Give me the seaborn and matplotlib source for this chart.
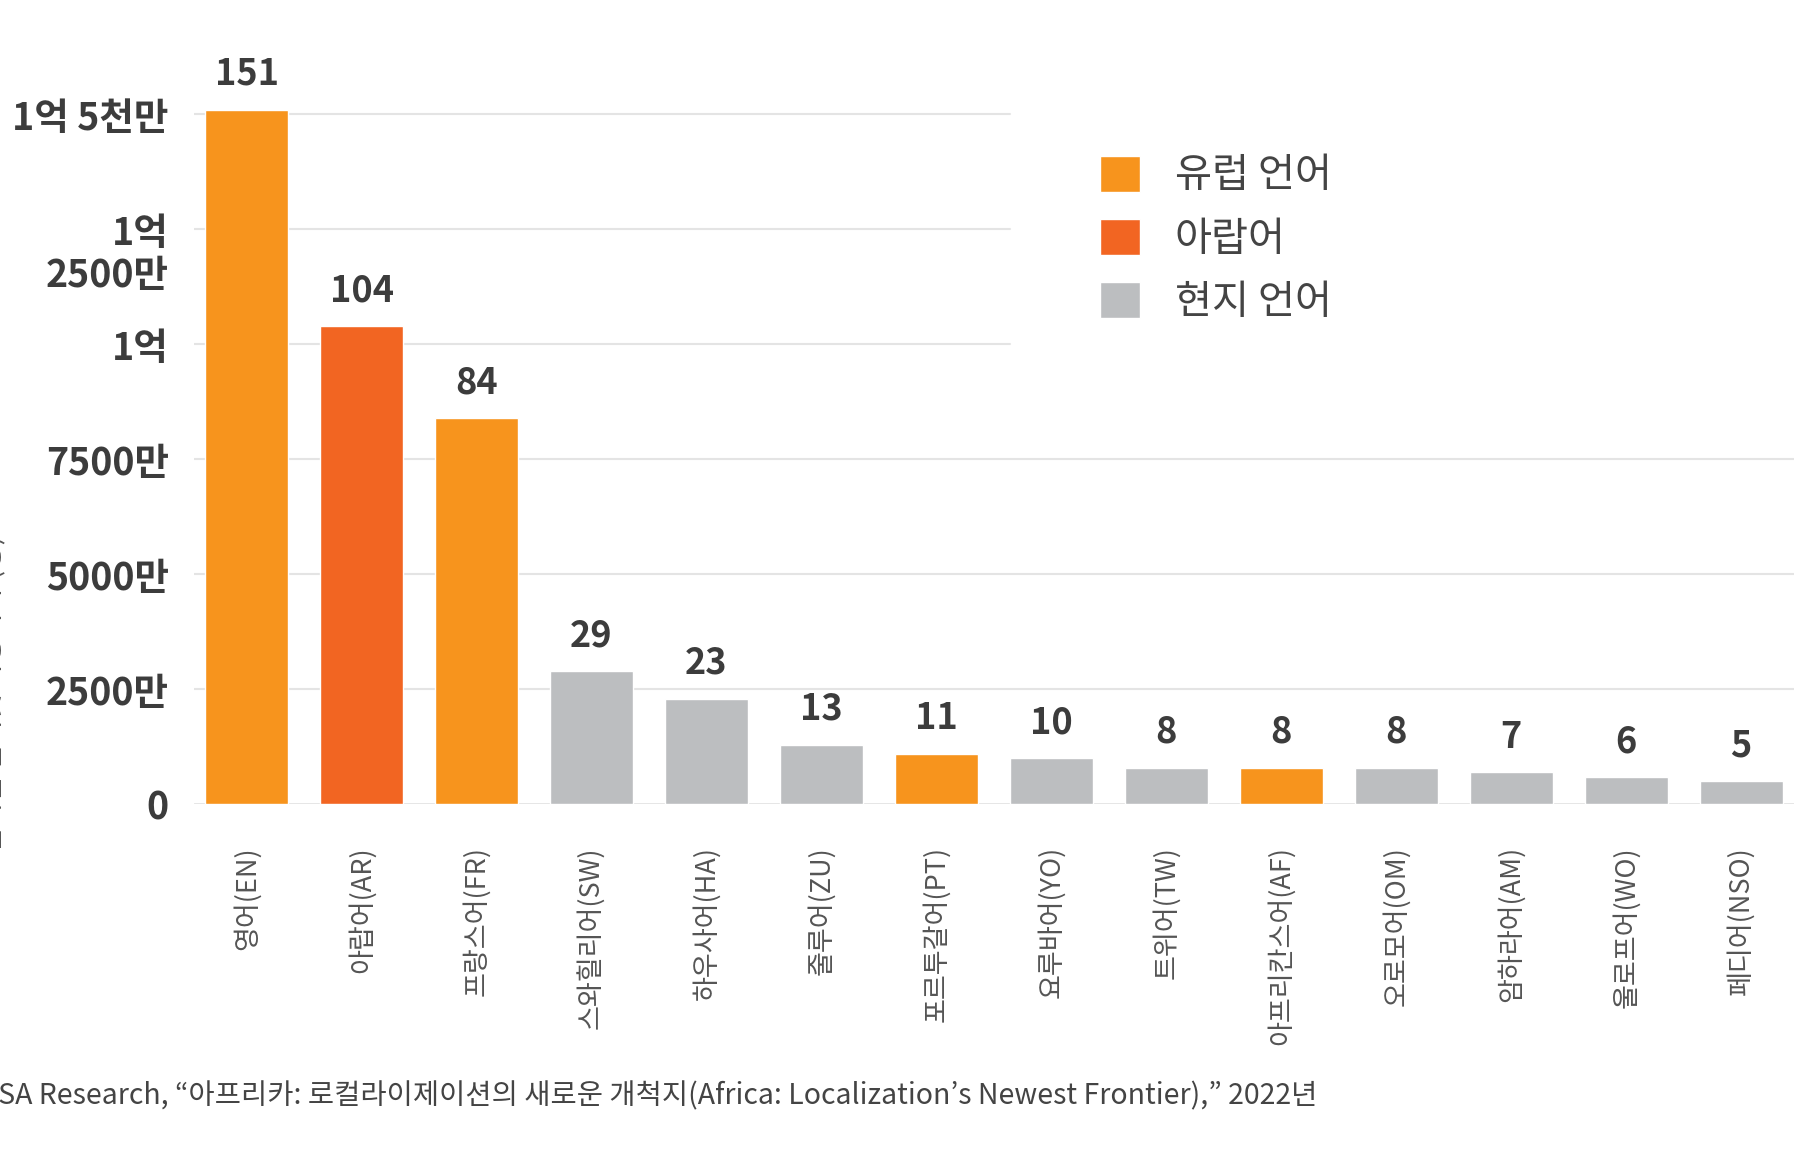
import matplotlib.pyplot as plt
import pandas as pd
import seaborn as sns

# 언어별 사용자 수 (단위: 명)
languages = ["영어(EN)", "아랍어(AR)", "프랑스어(FR)", "스와힐리어(SW)", "하우사어(HA)",
             "줄루어(ZU)", "포르투갈어(PT)", "요루바어(YO)", "트위어(TW)", "아프리칸스어(AF)",
             "오로모어(OM)", "암하라어(AM)", "울로프어(WO)", "페디어(NSO)"]
speakers_m = [151, 104, 84, 29, 23, 13, 11, 10, 8, 8, 8, 7, 6, 5]
groups = ["유럽 언어", "아랍어", "유럽 언어", "현지 언어", "현지 언어",
          "현지 언어", "유럽 언어", "현지 언어", "현지 언어", "유럽 언어",
          "현지 언어", "현지 언어", "현지 언어", "현지 언어"]
group_colors = {"유럽 언어": "#F7941D", "아랍어": "#F26522", "현지 언어": "#BCBEC0"}
ytick_values = [0, 25e6, 50e6, 75e6, 100e6, 125e6, 150e6]
ytick_labels = ["0", "2500만", "5000만", "7500만", "1억", "", "1억 5천만"]
source = "CSA Research, “아프리카: 로컬라이제이션의 새로운 개척지(Africa: Localization’s Newest Frontier),” 2022년"

df = pd.DataFrame({"language": languages,
                   "speakers": [v * 1e6 for v in speakers_m],
                   "group": groups})

sns.set_style("white")
plt.rcParams["font.family"] = ["Noto Sans CJK KR", "DejaVu Sans"]
TXT = "#3c3c3c"

fig = plt.figure(figsize=(17.94, 11.76), dpi=100)
ax = fig.add_axes([0.108, 0.316, 0.892, 0.626])

sns.barplot(data=df, x="language", y="speakers", hue="group", palette=group_colors,
            dodge=False, width=0.72, saturation=1, ax=ax, zorder=3)

# gridlines (upper ones stop before the legend)
for v in ytick_values:
    xmax = 0.51 if v >= 100e6 else 1.0
    ax.axhline(v, xmin=0, xmax=xmax, color="#e4e4e4", lw=2 if v == 0 else 1.5, zorder=1)

ax.set_ylim(0, 160e6)
ax.set_xlim(-0.46, len(languages) - 0.54)
sns.despine(ax=ax, left=True, bottom=True)
ax.set_xlabel("")
ax.set_ylabel("")

ax.set_yticks(ytick_values)
ax.set_yticklabels(ytick_labels, fontsize=27, fontweight="bold", color=TXT)
ax.tick_params(axis="y", length=0, pad=18)
ax.annotate("1억\n2500만", xy=(0, 125e6), xycoords=ax.get_yaxis_transform(),
            xytext=(-18, 11), textcoords="offset points", ha="right", va="top",
            multialignment="right", linespacing=1.1, fontsize=27, fontweight="bold", color=TXT)

ax.tick_params(axis="x", length=0, pad=30)
plt.setp(ax.get_xticklabels(), rotation=90, fontsize=19.5, color="#555555", va="top", ha="center")

for c in ax.containers:
    ax.bar_label(c, fmt=lambda v: f"{v / 1e6:.0f}", padding=12, fontsize=26,
                 fontweight="bold", color=TXT)

handles, labels = ax.get_legend_handles_labels()
ax.get_legend().remove()
fig.legend(handles, labels, loc="upper left", bbox_to_anchor=(0.602, 0.885),
           frameon=False, fontsize=29, handlelength=1.0, handleheight=1.0,
           handletextpad=0.85, labelspacing=0.55, borderpad=0, labelcolor="#444444")

fig.text(-0.004, 0.41, "언어별 인터넷 사용자 수(명)", rotation=90, ha="center", va="center",
         fontsize=20, color="#555555")
fig.text(-0.011, 0.068, source, ha="left", va="center", fontsize=20.5, color="#444444")

fig.savefig("out.png", dpi=100)
